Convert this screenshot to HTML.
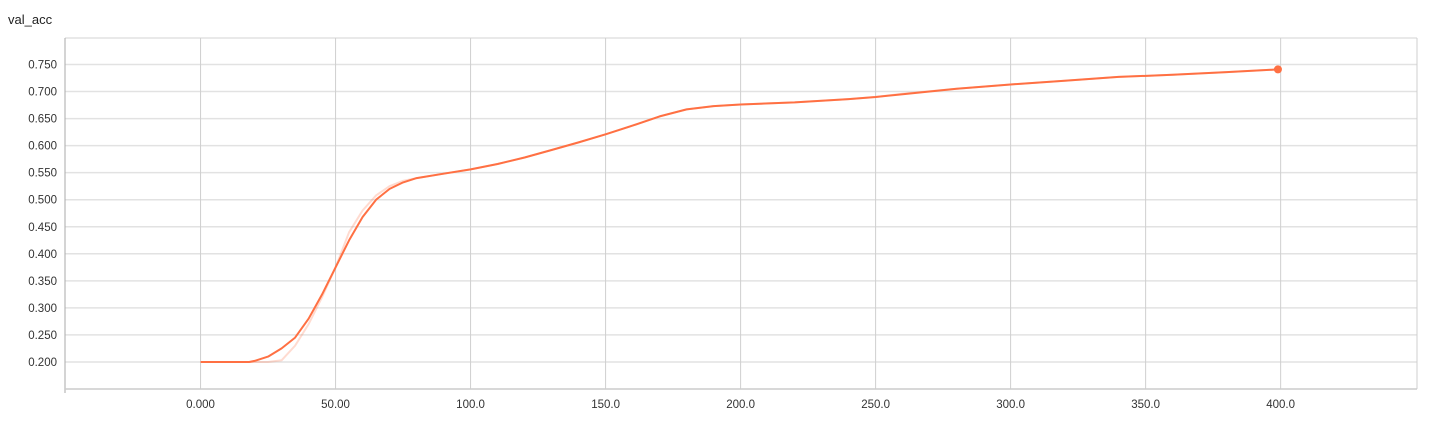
<!DOCTYPE html>
<html><head><meta charset="utf-8"><style>
body{margin:0;background:#fff;width:1430px;height:416px;overflow:hidden;font-family:"Liberation Sans",sans-serif}
</style></head><body>
<svg id="chart" width="1430" height="416" xmlns="http://www.w3.org/2000/svg">
<text x="8" y="24" font-size="13" fill="#222">val_acc</text>
<g id="grid"></g>
<g id="axes"></g>
<g id="series"></g>
</svg>
<script>
const xTicks=[0,50,100,150,200,250,300,350,400];
const xTickLabels=["0.000","50.00","100.0","150.0","200.0","250.0","300.0","350.0","400.0"];
const yTicks=[0.2,0.25,0.3,0.35,0.4,0.45,0.5,0.55,0.6,0.65,0.7,0.75];
const yTickLabels=["0.200","0.250","0.300","0.350","0.400","0.450","0.500","0.550","0.600","0.650","0.700","0.750"];
const steps=[0,10,18,20,25,30,35,40,45,50,55,60,65,70,75,80,90,100,110,120,130,140,150,160,170,180,190,200,220,240,250,260,280,300,320,340,360,380,399];
const smoothed=[0.2,0.2,0.2,0.202,0.21,0.225,0.245,0.28,0.325,0.375,0.425,0.468,0.5,0.52,0.532,0.54,0.548,0.556,0.566,0.578,0.592,0.606,0.621,0.637,0.654,0.667,0.673,0.676,0.68,0.686,0.69,0.695,0.705,0.713,0.72,0.727,0.731,0.736,0.741];
const raw=[0.2,0.2,0.2,0.2,0.2,0.203,0.23,0.27,0.32,0.375,0.44,0.48,0.508,0.525,0.535,0.54,0.548,0.556,0.566,0.578,0.592,0.606,0.621,0.637,0.654,0.667,0.673,0.676,0.68,0.686,0.69,0.696,0.705,0.713,0.72,0.727,0.731,0.736,0.741];
const X0=65,X1=1417,Y0=389,Y1=38;
const xMin=-50.2,xMax=450.5,yMin=0.15,yMax=0.799;
const sx=v=>X0+(v-xMin)/(xMax-xMin)*(X1-X0);
const sy=v=>Y0-(v-yMin)/(yMax-yMin)*(Y0-Y1);
const NS="http://www.w3.org/2000/svg";
function mk(t,a,p){const e=document.createElementNS(NS,t);for(const k in a)e.setAttribute(k,a[k]);p.appendChild(e);return e;}
const gridG=document.getElementById('grid'),axesG=document.getElementById('axes'),serG=document.getElementById('series');
yTicks.forEach((v,i)=>{
 const l=mk('line',{x1:X0,x2:X1,y1:sy(v),y2:sy(v),stroke:'#e2e2e2','stroke-width':1.5},gridG);
 
 
 const t=mk('text',{x:57,y:sy(v)+4,'text-anchor':'end','font-size':11.5,fill:'#333'},axesG);
 t.textContent=yTickLabels[i];
 
 
});
const topBorder=mk('line',{x1:X0,x2:X1,y1:Y1,y2:Y1,stroke:'#e2e2e2','stroke-width':1.5},gridG);


xTicks.forEach((v,i)=>{
 const l=mk('line',{x1:sx(v),x2:sx(v),y1:Y1,y2:Y0,stroke:'#cfcfcf','stroke-width':1},gridG);
 
 
 const t=mk('text',{x:sx(v),y:408,'text-anchor':'middle','font-size':11.5,fill:'#333'},axesG);
 t.textContent=xTickLabels[i];
 
 
});
const rightBorder=mk('line',{x1:X1,x2:X1,y1:Y1,y2:Y0,stroke:'#cfcfcf','stroke-width':1},gridG);


const yAxisLine=mk('line',{x1:X0,x2:X0,y1:Y1,y2:Y0+4,stroke:'#aaa','stroke-width':1},axesG);


const xAxisLine=mk('line',{x1:X0,x2:X1,y1:Y0,y2:Y0,stroke:'#ccc','stroke-width':1.5},axesG);


const pts=a=>steps.map((s,i)=>sx(s).toFixed(1)+','+sy(a[i]).toFixed(1)).join(' ');
const rawLine=mk('polyline',{points:pts(raw),fill:'none',stroke:'#ff7043','stroke-opacity':0.25,'stroke-width':2},serG);


const smoothLine=mk('polyline',{points:pts(smoothed),fill:'none',stroke:'#ff7043','stroke-width':2,'stroke-linejoin':'round'},serG);


const nLast=steps.length-1;
const dot=mk('circle',{cx:sx(steps[nLast]),cy:sy(smoothed[nLast]),r:4,fill:'#ff7043'},serG);


</script>
</body></html>
